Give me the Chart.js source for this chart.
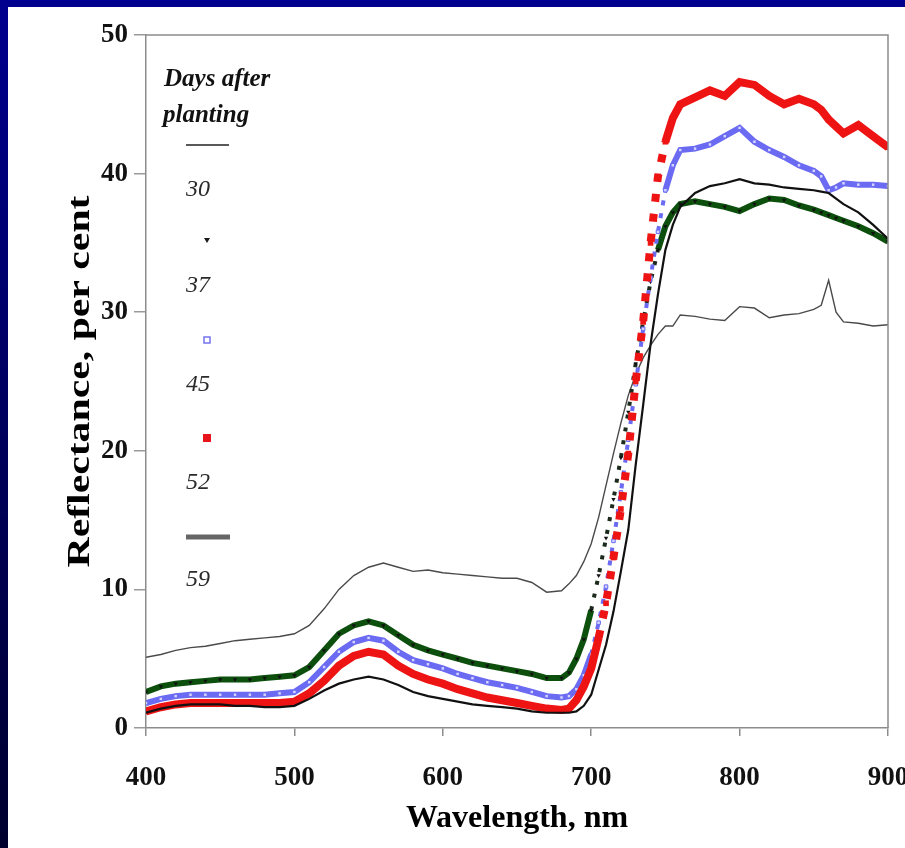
<!DOCTYPE html>
<html>
<head>
<meta charset="utf-8">
<script src="https://cdn.jsdelivr.net/npm/chart.js@4.4.1/dist/chart.umd.min.js"></script>
<style>
html, body { margin: 0; padding: 0; overflow: hidden; }
body { width: 905px; height: 848px; position: relative; background: linear-gradient(to bottom, #00008e, #00002e); }
#panel { position: absolute; left: 8px; top: 7px; right: 0; bottom: 0; background: #fff; }
#wrap { position: absolute; left: 0; top: 0; width: 938px; height: 848px; }
</style>
</head>
<body>
<div id="panel"></div>
<div id="wrap"><canvas id="reflChart"></canvas></div>
<script>
// wavelengths, nm (denser through the red edge)
const wavelengths = [400, 410, 420, 430, 440, 450, 460, 470, 480, 490, 500, 510, 520, 530, 540, 550, 560, 570, 580, 590,
  600, 610, 620, 630, 640, 650, 660, 670, 680, 685, 690, 695, 700, 705, 710, 715, 720, 725, 730, 735, 740, 745, 750, 755, 760,
  770, 780, 790, 800, 810, 820, 830, 840, 850, 855, 860, 865, 870, 880, 890, 900];

// reflectance, per cent, by days after planting
const day30 = [5.1, 5.3, 5.6, 5.8, 5.9, 6.1, 6.3, 6.4, 6.5, 6.6, 6.8, 7.4, 8.6, 10.0, 11.0, 11.6, 11.9, 11.6, 11.3, 11.4,
  11.2, 11.1, 11.0, 10.9, 10.8, 10.8, 10.5, 9.8, 9.9, 10.4, 11.0, 12.0, 13.3, 15.2, 17.5, 19.8, 22.0, 24.0, 25.5, 26.7, 27.6, 28.4, 29.0, 29.0, 29.8,
  29.7, 29.5, 29.4, 30.4, 30.3, 29.6, 29.8, 29.9, 30.2, 30.5, 32.3, 30.0, 29.3, 29.2, 29.0, 29.1];
const day37 = [2.6, 3.0, 3.2, 3.3, 3.4, 3.5, 3.5, 3.5, 3.6, 3.7, 3.8, 4.4, 5.6, 6.8, 7.4, 7.7, 7.4, 6.7, 6.0, 5.6,
  5.3, 5.0, 4.7, 4.5, 4.3, 4.1, 3.9, 3.6, 3.6, 4.0, 5.0, 6.4, 8.5, 11.0, 13.7, 16.5, 19.5, 22.8, 26.3, 29.3, 32.2, 34.5, 36.2, 37.2, 37.8,
  38.0, 37.8, 37.6, 37.3, 37.8, 38.2, 38.1, 37.7, 37.4, 37.2, 37.0, 36.8, 36.6, 36.2, 35.7, 35.1];
const day45 = [1.8, 2.1, 2.3, 2.4, 2.4, 2.4, 2.4, 2.4, 2.4, 2.5, 2.6, 3.3, 4.4, 5.5, 6.2, 6.5, 6.3, 5.5, 4.9, 4.6,
  4.3, 3.9, 3.6, 3.3, 3.1, 2.9, 2.6, 2.3, 2.2, 2.3, 2.8, 3.8, 5.3, 7.6, 10.2, 13.5, 17.0, 20.8, 24.8, 28.8, 32.5, 35.8, 38.8, 40.6, 41.7,
  41.8, 42.1, 42.7, 43.3, 42.3, 41.7, 41.2, 40.6, 40.2, 39.8, 38.8, 39.0, 39.3, 39.2, 39.2, 39.1];
const day52 = [1.2, 1.5, 1.7, 1.8, 1.8, 1.8, 1.8, 1.8, 1.8, 1.8, 1.9, 2.5, 3.4, 4.5, 5.2, 5.5, 5.3, 4.5, 3.9, 3.5,
  3.2, 2.8, 2.5, 2.2, 2.0, 1.8, 1.6, 1.4, 1.3, 1.4, 2.0, 3.0, 4.3, 6.5, 9.0, 12.3, 15.8, 19.8, 25.0, 29.3, 35.0, 39.8, 42.3, 44.0, 45.0,
  45.5, 46.0, 45.6, 46.6, 46.4, 45.6, 45.0, 45.4, 45.0, 44.6, 43.9, 43.4, 42.9, 43.5, 42.7, 41.9];
const day59 = [1.1, 1.4, 1.6, 1.7, 1.7, 1.7, 1.6, 1.6, 1.5, 1.5, 1.6, 2.1, 2.7, 3.2, 3.5, 3.7, 3.5, 3.1, 2.6, 2.3,
  2.1, 1.9, 1.7, 1.6, 1.5, 1.4, 1.2, 1.1, 1.1, 1.1, 1.2, 1.6, 2.4, 4.2, 6.0, 8.4, 11.3, 14.3, 19.0, 23.3, 27.7, 31.3, 34.5, 36.3, 37.6,
  38.6, 39.1, 39.3, 39.6, 39.3, 39.2, 39.0, 38.9, 38.8, 38.7, 38.6, 38.2, 37.8, 37.2, 36.3, 35.3];

const dayLabels = ['30', '37', '45', '52', '59'];
const yTicks = [0, 10, 20, 30, 40, 50];
const xTicks = [400, 500, 600, 700, 800, 900];

const serif = "'Liberation Serif', 'Times New Roman', serif";

function toPoints(values) {
  return wavelengths.map((w, i) => ({ x: w, y: values[i] }));
}

// steep part of the red edge is drawn as separate marks
function steep(c) {
  const dx = Math.abs(c.p1.parsed.x - c.p0.parsed.x);
  const dy = Math.abs(c.p1.parsed.y - c.p0.parsed.y);
  return dy / dx > 0.45;
}

// legend, axis titles and frame
const decorPlugin = {
  id: 'decor',
  afterDraw(chart) {
    const ctx = chart.ctx;
    const a = chart.chartArea;
    ctx.save();

    // top and right frame
    ctx.strokeStyle = '#8c8c8c';
    ctx.lineWidth = 1.5;
    ctx.beginPath();
    ctx.moveTo(a.left, a.top);
    ctx.lineTo(a.right, a.top);
    ctx.lineTo(a.right, a.bottom);
    ctx.stroke();

    // axis titles
    ctx.fillStyle = '#000';
    ctx.font = 'bold 32px ' + serif;
    ctx.textAlign = 'center';
    ctx.textBaseline = 'alphabetic';
    ctx.fillText('Wavelength, nm', (a.left + a.right) / 2, 827);

    ctx.save();
    ctx.translate(89, (a.top + a.bottom) / 2);
    ctx.rotate(-Math.PI / 2);
    ctx.font = 'bold 31px ' + serif;
    const w = ctx.measureText('Reflectance, per cent').width;
    ctx.scale(372 / w, 1);
    ctx.fillText('Reflectance, per cent', 0, 0);
    ctx.restore();

    // legend
    ctx.textAlign = 'left';
    ctx.fillStyle = '#111';
    ctx.font = 'bold italic 25px ' + serif;
    ctx.fillText('Days after', 164, 86);
    ctx.fillText('planting', 163, 122);

    ctx.fillStyle = '#2a2a2a';
    ctx.font = 'italic 24px ' + serif;
    const labelY = [196, 292, 391, 489, 586];
    dayLabels.forEach((d, i) => ctx.fillText(d, 186, labelY[i]));

    ctx.strokeStyle = '#222';
    ctx.lineWidth = 1.5;
    ctx.beginPath(); ctx.moveTo(186, 145); ctx.lineTo(229, 145); ctx.stroke();

    ctx.fillStyle = '#1a1a1a';
    ctx.beginPath(); ctx.moveTo(204, 238); ctx.lineTo(210, 238); ctx.lineTo(207, 243); ctx.closePath(); ctx.fill();

    ctx.strokeStyle = '#7474ee';
    ctx.lineWidth = 1.5;
    ctx.strokeRect(204, 337, 6, 6);

    ctx.fillStyle = '#e8141c';
    ctx.fillRect(203, 434, 8, 8);

    ctx.strokeStyle = '#666';
    ctx.lineWidth = 5;
    ctx.beginPath(); ctx.moveTo(186, 537); ctx.lineTo(230, 537); ctx.stroke();

    ctx.restore();
  }
};

const reflCtx = document.getElementById('reflChart').getContext('2d');

const reflChart = new Chart(reflCtx, {
  type: 'line',
  data: {
    datasets: [
      {
        label: dayLabels[0],
        data: toPoints(day30),
        borderColor: '#4a4a4a',
        borderWidth: 1.4,
        pointRadius: 0,
        order: 5
      },
      {
        label: dayLabels[1],
        data: toPoints(day37),
        borderColor: '#0d4f0d',
        borderWidth: 6,
        pointStyle: 'triangle',
        rotation: 180,
        pointRadius: 2.5,
        pointBackgroundColor: '#111',
        pointBorderWidth: 0,
        segment: {
          borderColor: c => steep(c) ? '#1c2a1c' : undefined,
          borderDash: c => steep(c) ? [4, 9] : undefined,
          borderWidth: c => steep(c) ? 4 : undefined
        },
        order: 4
      },
      {
        label: dayLabels[2],
        data: toPoints(day45),
        borderColor: '#6a6af2',
        borderWidth: 6,
        pointStyle: 'rect',
        pointRadius: 2.5,
        pointBackgroundColor: '#d4d4ff',
        pointBorderColor: '#6a6af2',
        pointBorderWidth: 1,
        segment: {
          borderDash: c => steep(c) ? [5, 8] : undefined,
          borderWidth: c => steep(c) ? 4 : undefined
        },
        order: 3
      },
      {
        label: dayLabels[3],
        data: toPoints(day52),
        borderColor: '#ee1414',
        borderWidth: 8,
        pointStyle: 'rect',
        pointRadius: 4,
        pointBackgroundColor: '#ee1414',
        pointBorderWidth: 0,
        segment: {
          borderDash: c => steep(c) ? [8, 12] : undefined
        },
        order: 2
      },
      {
        label: dayLabels[4],
        data: toPoints(day59),
        borderColor: '#111',
        borderWidth: 2.2,
        pointRadius: 0,
        order: 1
      }
    ]
  },
  options: {
    responsive: true,
    maintainAspectRatio: false,
    animation: false,
    layout: { padding: { left: 0, right: 50, top: 35, bottom: 0 } },
    plugins: {
      legend: { display: false },
      tooltip: { enabled: false }
    },
    scales: {
      x: {
        type: 'linear',
        min: 400,
        max: 900,
        afterBuildTicks: s => { s.ticks = xTicks.map(v => ({ value: v })); },
        afterFit: s => { s.height = 120; },
        grid: { drawOnChartArea: false, tickLength: 8, color: '#8c8c8c', lineWidth: 1.5 },
        border: { display: true, color: '#8c8c8c', width: 1.5 },
        ticks: { color: '#111', padding: 26, maxRotation: 0, font: { family: serif, size: 27, weight: 'bold' } }
      },
      y: {
        min: 0,
        max: 50,
        afterBuildTicks: s => { s.ticks = yTicks.map(v => ({ value: v })); },
        afterFit: s => { s.width = 146; },
        grid: { drawOnChartArea: false, tickLength: 12, color: '#9a9a9a', lineWidth: 1.5 },
        border: { display: true, color: '#8c8c8c', width: 1.5 },
        ticks: { color: '#111', padding: 6, font: { family: serif, size: 27, weight: 'bold' } }
      }
    }
  },
  plugins: [decorPlugin]
});
</script>
</body>
</html>
